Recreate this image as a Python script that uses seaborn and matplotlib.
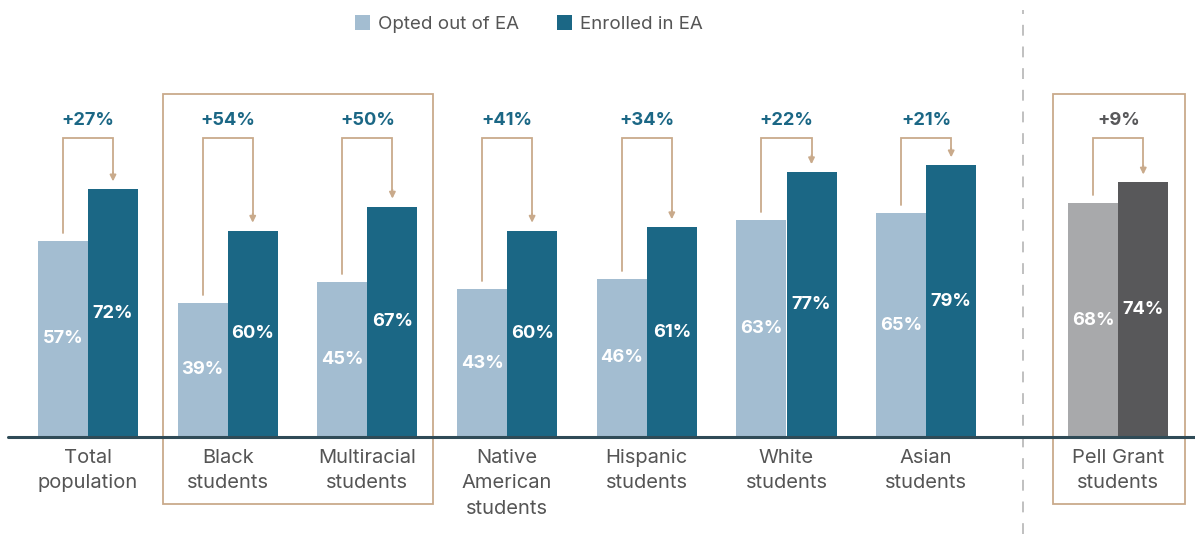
import matplotlib
matplotlib.use("Agg")
import matplotlib.pyplot as plt
from matplotlib.patches import Rectangle, Patch
import numpy as np
import pandas as pd
import seaborn as sns

# ---- data ----
groups = ["Total\npopulation", "Black\nstudents", "Multiracial\nstudents",
          "Native\nAmerican\nstudents", "Hispanic\nstudents", "White\nstudents",
          "Asian\nstudents", "Pell Grant\nstudents"]
positions = [0, 1, 2, 3, 4, 5, 6, 7.375]
opted_out = [57, 39, 45, 43, 46, 63, 65, 68]
enrolled = [72, 60, 67, 60, 61, 77, 79, 74]
change_labels = ["+27%", "+54%", "+50%", "+41%", "+34%", "+22%", "+21%", "+9%"]
series = ["Opted out of EA", "Enrolled in EA"]

# ---- styling ----
LIGHT_BLUE = "#a3bdd1"
DARK_BLUE = "#1b6785"
LIGHT_GREY = "#a8a9ab"
DARK_GREY = "#58585a"
TAN = "#c9aa8b"
TEXT_GREY = "#555555"
AXIS_COLOR = "#2f4b57"
FONT = ["Inter", "DejaVu Sans"]

sns.set_theme(style="white")
plt.rcParams["font.family"] = FONT

rows = []
for g, p, o, e in zip(groups, positions, opted_out, enrolled):
    rows.append({"group": g, "pos": p, "series": series[0], "value": o})
    rows.append({"group": g, "pos": p, "series": series[1], "value": e})
df = pd.DataFrame(rows)
pell_name = groups[-1]
df_main = df[df["group"] != pell_name]
df_pell = df[df["group"] == pell_name]

fig = plt.figure(figsize=(11.95, 5.34), dpi=100)
ax = fig.add_axes([0, 0, 1, 1])

bar_w = 0.716
sns.barplot(data=df_main, x="pos", y="value", hue="series", hue_order=series,
            palette=[LIGHT_BLUE, DARK_BLUE], native_scale=True, width=bar_w,
            dodge=True, legend=False, ax=ax, saturation=1, linewidth=0)
sns.barplot(data=df_pell, x="pos", y="value", hue="series", hue_order=series,
            palette=[LIGHT_GREY, DARK_GREY], native_scale=True, width=bar_w,
            dodge=True, legend=False, ax=ax, saturation=1, linewidth=0)

# pixel-aligned axis limits
px_per_unit_x = 139.7
x0_px = 88
ax.set_xlim(-x0_px / px_per_unit_x, (1195 - x0_px) / px_per_unit_x)
px_per_unit_y = 3.44
base_px = 437
ax.set_ylim(-(534 - base_px) / px_per_unit_y, base_px / px_per_unit_y)
ax.axis("off")

# baseline
ax.axhline(0, xmin=8 / 1195, xmax=1, color=AXIS_COLOR, lw=2.2, zorder=5)

half = bar_w / 4
gap = 2.3
arrow_top = 87
for i, (p, o, e, lab) in enumerate(zip(positions, opted_out, enrolled, change_labels)):
    xl, xr = p - half, p + half
    # value labels centred in bars
    ax.text(xl, o / 2, f"{o}%", ha="center", va="center", color="white",
            fontsize=13.2, fontweight="bold")
    ax.text(xr, e / 2, f"{e}%", ha="center", va="center", color="white",
            fontsize=13.2, fontweight="bold")
    # elbow connector from opted-out bar to enrolled bar
    ax.plot([xl, xl, xr, xr], [o + gap, arrow_top, arrow_top, e + gap + 2.2],
            color=TAN, lw=1.3, solid_joinstyle="miter", zorder=4)
    ax.annotate("", xy=(xr, e + gap), xytext=(xr, e + gap + 2.6),
                arrowprops=dict(arrowstyle="-|>", color=TAN, lw=1.3,
                                mutation_scale=9, shrinkA=0, shrinkB=0))
    # change label
    lab_color = DARK_GREY if i == len(positions) - 1 else DARK_BLUE
    ax.text(p, 92, lab, ha="center", va="center", color=lab_color,
            fontsize=13.2, fontweight="bold")
    # category label
    ax.text(p, -3.4, groups[i], ha="center", va="top", color=TEXT_GREY,
            fontsize=14.5, linespacing=1.55)

# highlight boxes
box_bottom = -19.5
box_top = 99.7
def px_to_x(px):
    return (px - x0_px) / px_per_unit_x

for left_px, right_px in [(163, 433), (1053, 1185)]:
    xl = px_to_x(left_px)
    xr = px_to_x(right_px)
    ax.add_patch(Rectangle((xl, box_bottom), xr - xl, box_top - box_bottom,
                           fill=False, edgecolor=TAN, lw=1.3, zorder=3,
                           clip_on=False))

# dashed divider
ax.plot([px_to_x(1023)] * 2, [-(534 - base_px) / px_per_unit_y, (base_px - 10) / px_per_unit_y],
        color="#bbbbbb", lw=1.3, ls=(0, (6, 6)), zorder=2)

# legend
handles = [Patch(facecolor=LIGHT_BLUE, edgecolor="none"),
           Patch(facecolor=DARK_BLUE, edgecolor="none")]
fig.legend(handles, series, loc="center", bbox_to_anchor=(529 / 1195, 1 - 24 / 534),
           ncol=2, frameon=False, fontsize=13.5, handlelength=0.8, handleheight=0.8,
           handletextpad=0.45, columnspacing=2.0, labelcolor=TEXT_GREY)

fig.savefig("out.png", dpi=100)
